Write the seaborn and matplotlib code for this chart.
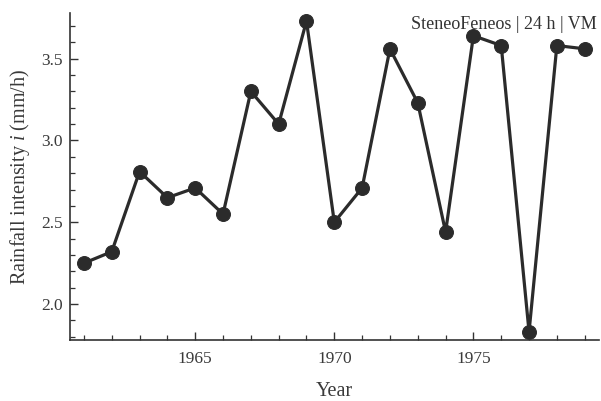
import matplotlib
matplotlib.use("Agg")
import matplotlib.pyplot as plt
import seaborn as sns
import pandas as pd
from matplotlib.ticker import MultipleLocator

years = list(range(1961, 1980))
intensity = [2.25, 2.32, 2.81, 2.65, 2.71, 2.55, 3.30, 3.10, 3.73, 2.50,
             2.71, 3.56, 3.23, 2.44, 3.64, 3.58, 1.83, 3.58, 3.56]
xlabel = "Year"
ylabel = "Rainfall intensity $i$ (mm/h)"
annotation = "SteneoFeneos | 24 h | VM"

sns.set_theme(style="ticks")
plt.rcParams['font.family'] = ['Liberation Serif', 'DejaVu Serif']
plt.rcParams['mathtext.fontset'] = 'custom'
plt.rcParams['mathtext.it'] = 'Liberation Serif:italic'
plt.rcParams['mathtext.rm'] = 'Liberation Serif'

df = pd.DataFrame({"Year": years, "Intensity": intensity})

fig = plt.figure(figsize=(6.01, 4.01), dpi=100)
ax = fig.add_axes([0.1165, 0.152, 0.8795, 0.816])
sns.lineplot(data=df, x="Year", y="Intensity", ax=ax, color="#2b2b2b",
             marker="o", markersize=10, linewidth=2.3,
             markeredgecolor="#2b2b2b", markerfacecolor="#2b2b2b")

ax.set_xlim(1960.5, 1979.5)
ax.set_ylim(1.78, 3.78)
ax.xaxis.set_major_locator(MultipleLocator(5))
ax.xaxis.set_minor_locator(MultipleLocator(1))
ax.yaxis.set_major_locator(MultipleLocator(0.5))
ax.yaxis.set_minor_locator(MultipleLocator(0.1))
ax.tick_params(axis='both', which='major', direction='in', length=6, width=1,
               color='#333333', labelsize=12.5, labelcolor='#3a3a3a')
ax.tick_params(axis='x', which='major', pad=8)
ax.tick_params(axis='y', which='major', pad=5)
ax.tick_params(axis='both', which='minor', direction='in', length=3.5, width=0.9,
               color='#333333')
for s in ['top', 'right']:
    ax.spines[s].set_visible(False)
for s in ['left', 'bottom']:
    ax.spines[s].set_color('#333333')
    ax.spines[s].set_linewidth(1.2)

ax.set_xlabel(xlabel, fontsize=14.5, color='#3a3a3a', labelpad=11)
ax.set_ylabel(ylabel, fontsize=14.5, color='#3a3a3a', labelpad=7)
ax.text(0.997, 0.963, annotation, transform=ax.transAxes, ha='right', va='center',
        fontsize=13, color='#333333')

fig.savefig("out.png", dpi=100)
